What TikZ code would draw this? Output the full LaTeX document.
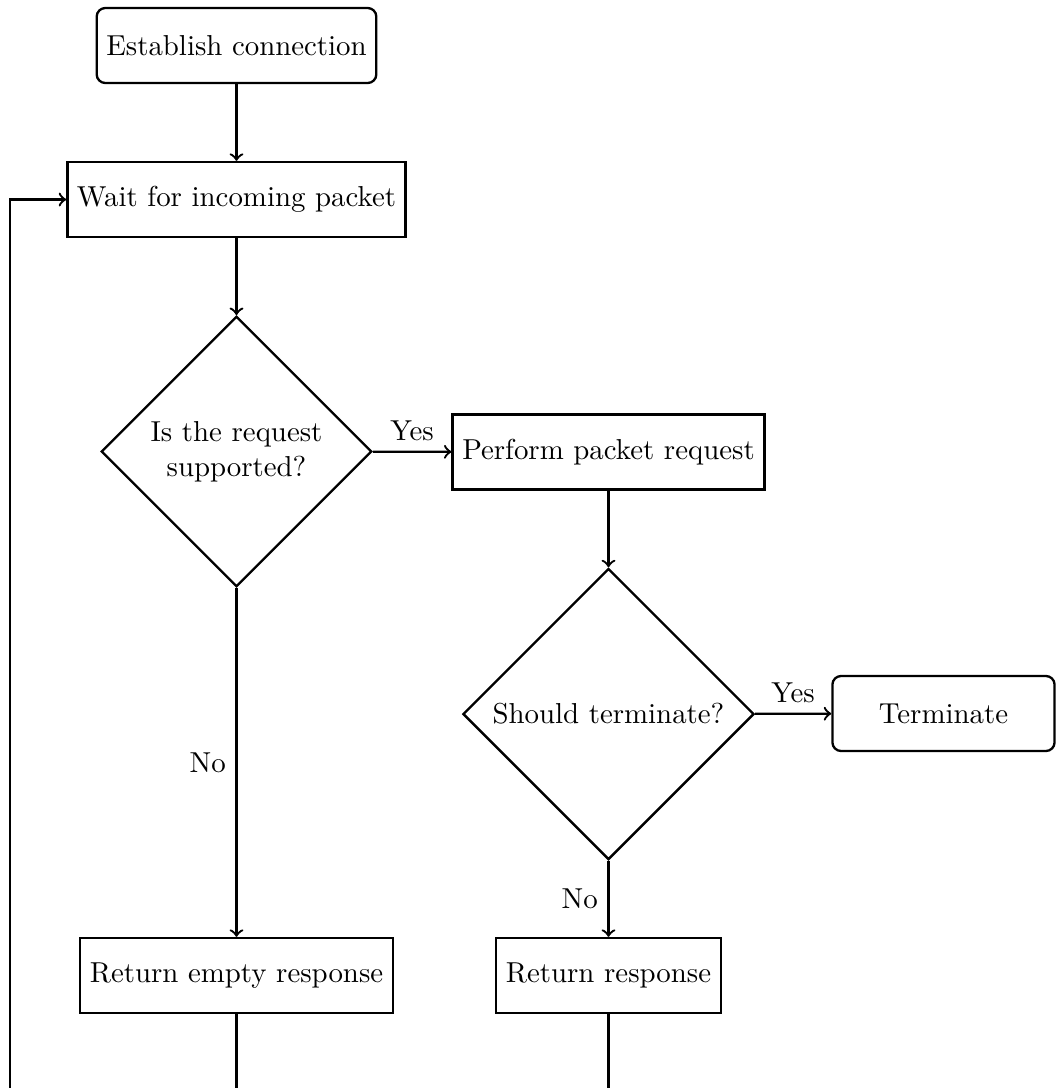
\documentclass[tikz,border=0pt]{standalone}
\usepackage{amsmath}
\usepackage{tikz}
\usetikzlibrary{shapes.geometric}
\usetikzlibrary{arrows}
\usetikzlibrary{positioning}
\usetikzlibrary{calc}

\begin{document}
\begin{tikzpicture}[x=0.3466pt,y=0.3466pt,yscale=-1,xscale=1,
    terminal/.style={draw, thick, rounded corners=3pt, minimum width=77pt, minimum height=26pt},
    process/.style={draw, thick, minimum height=26pt},
    decision/.style={draw, thick, diamond, shape aspect=1, align=center},
    flow/.style={thick, ->}]

\useasboundingbox (0,0) rectangle (1056,1088);

% Nodes
\node (start)   at (236.5,45.5)  [terminal] {Establish connection};
\node (wait)    at (236.5,199.5) [process]  {Wait for incoming packet};
\node (dec1)    at (236.5,451.5) [decision] {Is the request\\supported?};
\node (perform) at (608.5,452)   [process]  {Perform packet request};
\node (dec2)    at (608.5,714)   [decision] {Should terminate?};
\node (term)    at (943.5,713.5) [terminal] {Terminate};
\node (ret1)    at (236.5,975.5) [process]  {Return empty response};
\node (ret2)    at (608.5,975.5) [process]  {Return response};

\coordinate (loop) at (10,1120);

% Flow
\draw [flow] (start) -- (wait);
\draw [flow] (wait) -- (dec1);
\draw [flow] (dec1) -- node [above] {Yes} (perform);
\draw [flow] (dec1) -- node [left] {No} (ret1);
\draw [flow] (perform) -- (dec2);
\draw [flow] (dec2) -- node [above] {Yes} (term);
\draw [flow] (dec2) -- node [left] {No} (ret2);

% Loop back
\draw [thick] (ret1.south) -- (ret1.south |- loop);
\draw [thick] (ret2.south) |- (loop);
\draw [flow] (loop) |- (wait.west);

\end{tikzpicture}
\end{document}
